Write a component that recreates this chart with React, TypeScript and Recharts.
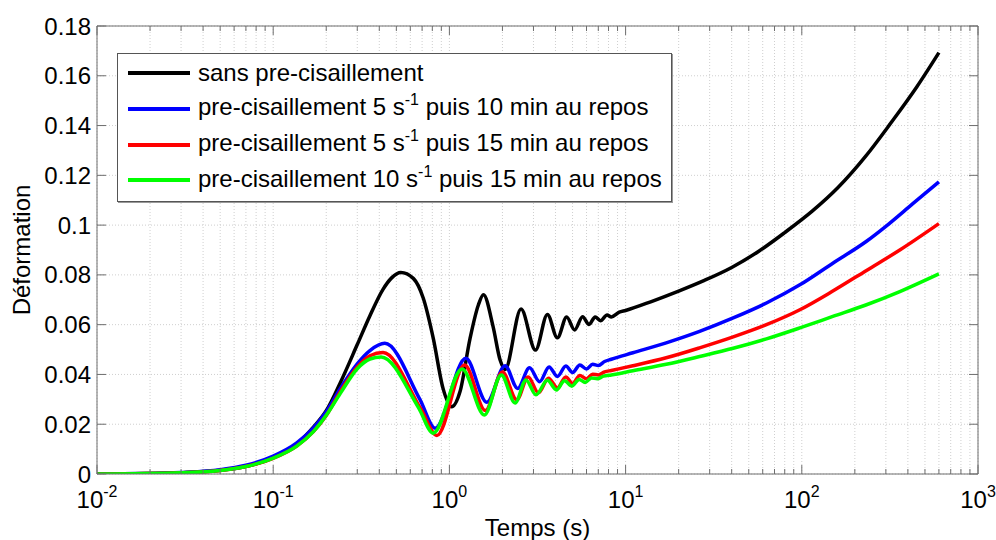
import React from 'react';
import { LineChart, Line, XAxis, YAxis, CartesianGrid, Legend } from 'recharts';

// ---- data (time in s, strain) ----
const blackTime = [0.01, 0.02, 0.03, 0.05, 0.07, 0.1, 0.136, 0.169, 0.2, 0.24, 0.3, 0.354, 0.42, 0.47, 0.53, 0.624, 0.711, 0.81, 0.92, 1.03, 1.148, 1.31, 1.46, 1.56, 1.77, 1.94, 2.07, 2.55, 3.08, 3.6, 4.1, 4.63, 5.13, 5.7, 6.2, 6.72, 7.2, 7.85, 8.3, 9.2, 10, 14, 20, 28, 40, 57, 80, 115, 160, 230, 320, 450, 600];
const blackStrain = [0, 0.0002, 0.0005, 0.0015, 0.003, 0.0066, 0.012, 0.0188, 0.0254, 0.0366, 0.052, 0.0636, 0.0742, 0.0788, 0.081, 0.0786, 0.0706, 0.0545, 0.0344, 0.027, 0.033, 0.0545, 0.0679, 0.072, 0.0592, 0.0458, 0.042, 0.0663, 0.0498, 0.0641, 0.0547, 0.0631, 0.0579, 0.0632, 0.0601, 0.0631, 0.0616, 0.0639, 0.0631, 0.065, 0.0657, 0.0693, 0.0735, 0.0778, 0.083, 0.0895, 0.097, 0.1057, 0.115, 0.1276, 0.141, 0.1556, 0.1693];

const blueTime = [0.01, 0.02, 0.03, 0.05, 0.07, 0.1, 0.136, 0.169, 0.2, 0.24, 0.3, 0.354, 0.43, 0.68, 0.83, 1.24, 1.63, 2.07, 2.44, 2.85, 3.25, 3.68, 4.1, 4.58, 5.0, 5.5, 6.0, 6.5, 7.0, 7.6, 8.3, 11, 17, 26.3, 40.8, 63, 97.5, 150, 233, 300, 425, 600];
const blueStrain = [0, 0.0002, 0.0006, 0.0017, 0.0035, 0.0072, 0.0125, 0.0185, 0.025, 0.0343, 0.0443, 0.0496, 0.0525, 0.03, 0.0184, 0.0465, 0.0288, 0.0435, 0.0344, 0.0427, 0.0371, 0.043, 0.0392, 0.0434, 0.0408, 0.0438, 0.0422, 0.0441, 0.0436, 0.0452, 0.0461, 0.0487, 0.0527, 0.0573, 0.0627, 0.0687, 0.076, 0.0847, 0.0935, 0.0995, 0.1085, 0.1174];

const redTime = [0.01, 0.03, 0.05, 0.07, 0.1, 0.136, 0.169, 0.2, 0.24, 0.3, 0.354, 0.42, 0.69, 0.85, 1.22, 1.6, 2.0, 2.41, 2.8, 3.2, 3.65, 4.1, 4.58, 5.0, 5.5, 6.0, 6.5, 7.0, 7.6, 8.3, 11, 17, 26.3, 40.8, 63, 97.5, 150, 233, 360, 600];
const redStrain = [0, 0.0005, 0.0014, 0.003, 0.0063, 0.0112, 0.017, 0.0235, 0.033, 0.043, 0.0475, 0.0488, 0.026, 0.0155, 0.0438, 0.0255, 0.041, 0.0298, 0.039, 0.0326, 0.0385, 0.0346, 0.039, 0.0364, 0.0396, 0.0383, 0.0401, 0.0398, 0.041, 0.0416, 0.0435, 0.0467, 0.0507, 0.0551, 0.06, 0.066, 0.0735, 0.0818, 0.09, 0.1006];

const greenTime = [0.01, 0.03, 0.05, 0.07, 0.1, 0.136, 0.169, 0.2, 0.24, 0.3, 0.354, 0.41, 0.67, 0.81, 1.18, 1.58, 1.97, 2.36, 2.72, 3.1, 3.6, 4.05, 4.5, 4.95, 5.45, 5.9, 6.4, 6.9, 7.5, 8.3, 11, 17, 26.3, 40.8, 63, 97.5, 150, 233, 360, 600];
const greenStrain = [0, 0.0005, 0.0014, 0.003, 0.0064, 0.0112, 0.017, 0.0236, 0.0323, 0.0423, 0.0462, 0.047, 0.0265, 0.0164, 0.0422, 0.0237, 0.0398, 0.0285, 0.0378, 0.0318, 0.0377, 0.0338, 0.0375, 0.0353, 0.038, 0.0368, 0.0386, 0.0383, 0.0393, 0.0398, 0.0415, 0.0441, 0.0472, 0.0505, 0.0543, 0.0587, 0.0633, 0.068, 0.0733, 0.0804];

const seriesLabels = [
  'sans pre-cisaillement',
  'pre-cisaillement 5 s^{-1} puis 10 min au repos',
  'pre-cisaillement 5 s^{-1} puis 15 min au repos',
  'pre-cisaillement 10 s^{-1} puis 15 min au repos',
];
const seriesColors = ['#000000', '#0000ff', '#ff0000', '#00ff00'];

const xMajorTicks = [0.01, 0.1, 1, 10, 100, 1000];
const yTicks = [0, 0.02, 0.04, 0.06, 0.08, 0.1, 0.12, 0.14, 0.16, 0.18];
const xAllTicks: number[] = [];
xMajorTicks.forEach((m, i) => {
  xAllTicks.push(m);
  if (i < xMajorTicks.length - 1) {
    for (let k = 2; k <= 9; k++) xAllTicks.push(Number((m * k).toPrecision(6)));
  }
});

const toData = (ts: number[], vs: number[]) => ts.map((t, i) => ({ t, v: vs[i] }));
const seriesData = [
  toData(blackTime, blackStrain),
  toData(blueTime, blueStrain),
  toData(redTime, redStrain),
  toData(greenTime, greenStrain),
];

const FONT = '"Liberation Sans", Arial, Helvetica, sans-serif';
const AXIS_COLOR = '#6e6e6e';
const MAJOR = 9;
const MINOR = 5;

const isMajor = (v: number) => Math.abs(Math.log10(v) - Math.round(Math.log10(v))) < 1e-6;

const BottomTick = (props: any) => {
  const { x, y, payload } = props;
  const v = payload.value as number;
  const major = isMajor(v);
  return (
    <g>
      <line x1={x} y1={y} x2={x} y2={y - (major ? MAJOR : MINOR)} stroke={AXIS_COLOR} strokeWidth={1} />
      {major && (
        <text x={x} y={y + 34} textAnchor="middle" fontFamily={FONT} fontSize={24} fill="#000">
          10
          <tspan fontSize={16} dy={-11}>{String(Math.round(Math.log10(v)))}</tspan>
        </text>
      )}
    </g>
  );
};

const TopTick = (props: any) => {
  const { x, y, payload } = props;
  const major = isMajor(payload.value);
  return <line x1={x} y1={y} x2={x} y2={y + (major ? MAJOR : MINOR)} stroke={AXIS_COLOR} strokeWidth={1} />;
};

const LeftTick = (props: any) => {
  const { x, y, payload } = props;
  const v = payload.value as number;
  return (
    <g>
      <line x1={x} y1={y} x2={x + MAJOR} y2={y} stroke={AXIS_COLOR} strokeWidth={1} />
      <text x={x - 6} y={y + 8.5} textAnchor="end" fontFamily={FONT} fontSize={24} fill="#000">
        {String(Math.round(v * 100) / 100)}
      </text>
    </g>
  );
};

const RightTick = (props: any) => {
  const { x, y } = props;
  return <line x1={x} y1={y} x2={x - MAJOR} y2={y} stroke={AXIS_COLOR} strokeWidth={1} />;
};

const renderLabel = (label: string) => {
  const parts = label.split('^{-1}');
  if (parts.length === 1) return <span>{label}</span>;
  return (
    <span>
      {parts[0]}
      <span style={{ fontSize: 16, position: 'relative', top: -10 }}>-1</span>
      {parts[1]}
    </span>
  );
};

const LegendBox = () => (
  <div
    style={{
      width: 555,
      height: 149,
      boxSizing: 'border-box',
      border: '1px solid #555',
      boxShadow: '1px 1px 0 #999',
      background: '#fff',
      position: 'relative',
      fontFamily: FONT,
      fontSize: 24,
      color: '#000',
    }}
  >
    {seriesLabels.map((label, i) => (
      <div
        key={label}
        style={{
          position: 'absolute',
          left: 0,
          top: 1 + i * 35.8,
          height: 36,
          display: 'flex',
          alignItems: 'center',
          whiteSpace: 'nowrap',
        }}
      >
        <svg width={80} height={36} style={{ display: 'block' }}>
          <line x1={10} y1={18} x2={72} y2={18} stroke={seriesColors[i]} strokeWidth={4} />
        </svg>
        <div style={{ lineHeight: '36px' }}>{renderLabel(label)}</div>
      </div>
    ))}
  </div>
);

export default function App() {
  return (
    <div style={{ position: 'absolute', left: 0, top: 0, width: 996, height: 540, background: '#fff' }}>
      <LineChart width={996} height={540} margin={{ top: 25, right: 17, bottom: 65, left: 96 }}>
        <CartesianGrid stroke="#cfcfcf" strokeDasharray="1 2" strokeWidth={1} />
        <XAxis
          xAxisId={0}
          dataKey="t"
          type="number"
          scale="log"
          domain={[0.01, 1000]}
          allowDataOverflow
          ticks={xAllTicks}
          interval={0}
          height={1}
          tickSize={0}
          tickMargin={0}
          tickLine={false}
          axisLine={{ stroke: AXIS_COLOR }}
          tick={<BottomTick />}
        />
        <XAxis
          xAxisId="top"
          orientation="top"
          dataKey="t"
          type="number"
          scale="log"
          domain={[0.01, 1000]}
          allowDataOverflow
          ticks={xAllTicks}
          interval={0}
          height={1}
          tickSize={0}
          tickMargin={0}
          tickLine={false}
          axisLine={{ stroke: AXIS_COLOR }}
          tick={<TopTick />}
        />
        <YAxis
          yAxisId={0}
          type="number"
          domain={[0, 0.18]}
          allowDataOverflow
          ticks={yTicks}
          interval={0}
          width={1}
          tickSize={0}
          tickMargin={0}
          tickLine={false}
          axisLine={{ stroke: AXIS_COLOR }}
          tick={<LeftTick />}
        />
        <YAxis
          yAxisId="right"
          orientation="right"
          type="number"
          domain={[0, 0.18]}
          allowDataOverflow
          ticks={yTicks}
          interval={0}
          width={1}
          tickSize={0}
          tickMargin={0}
          tickLine={false}
          axisLine={{ stroke: AXIS_COLOR }}
          tick={<RightTick />}
        />
        {seriesData.map((d, i) => (
          <Line
            key={seriesLabels[i]}
            xAxisId={0}
            yAxisId={0}
            data={d}
            dataKey="v"
            name={seriesLabels[i]}
            type="monotone"
            stroke={seriesColors[i]}
            strokeWidth={3.5}
            dot={false}
            activeDot={false}
            isAnimationActive={false}
          />
        ))}
        <Legend
          layout="horizontal"
          verticalAlign="middle"
          align="center"
          content={<LegendBox />}
          wrapperStyle={{ left: 117, top: 53, width: 555, height: 149 }}
        />
        <text x={537.5} y={536} textAnchor="middle" fontFamily={FONT} fontSize={24} fill="#000">
          Temps (s)
        </text>
        <text
          x={30}
          y={250}
          textAnchor="middle"
          fontFamily={FONT}
          fontSize={24}
          fill="#000"
          transform="rotate(-90 30 250)"
        >
          Déformation
        </text>
      </LineChart>
    </div>
  );
}
